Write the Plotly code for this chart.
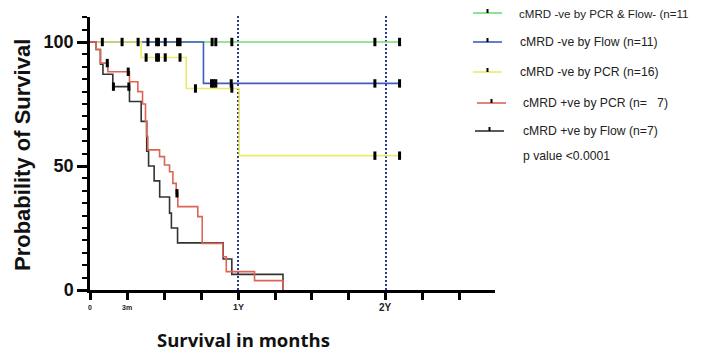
import plotly.graph_objects as go

# ---- data (months, survival %) ----
green_t = [0, 25.1]
green_s = [100, 100]
green_ct = [1.0, 2.6, 3.9, 9.9, 10.2, 11.5, 23.1, 25.1]
green_cs = [100, 100, 100, 100, 100, 100, 100, 100]

blue_t = [0, 9.2, 25.1]
blue_s = [100, 83.3, 83.3]
blue_ct = [4.7, 5.4, 5.55, 6.1, 7.1, 7.3, 9.85, 10.0, 10.2, 11.45, 23.1, 25.1]
blue_cs = [100, 100, 100, 100, 100, 100, 83.3, 83.3, 83.3, 83.3, 83.3, 83.3]

yellow_t = [0, 4.15, 7.8, 12.1, 25.1]
yellow_s = [100, 93.75, 81.25, 54.17, 54.17]
yellow_ct = [4.55, 5.4, 5.55, 6.1, 7.3, 8.55, 11.5, 23.1, 25.1]
yellow_cs = [93.75, 93.75, 93.75, 93.75, 93.75, 81.25, 81.25, 54.17, 54.17]

black_t = [0, 0.5, 0.85, 1.05, 1.85, 3.2, 4.15, 4.6, 4.75, 5.2, 5.65, 6.45, 6.6, 7.1, 10.8, 11.5, 15.65]
black_s = [100, 97, 91, 87, 82, 76, 68, 56, 50, 44, 37.5, 31, 25, 19, 12.5, 6.3, 0]
black_ct = [1.9, 3.15]
black_cs = [82, 82]

red_t = [0, 0.5, 0.83, 1.45, 3.2, 3.88, 4.26, 4.5, 4.58, 4.69, 5.64, 6.04, 6.45, 6.72, 6.99, 7.12, 8.74, 9.1, 10.77, 11.05, 13.34, 15.65]
red_s = [100, 97, 91.5, 88, 84, 80, 75, 68, 62, 56.5, 53.8, 50.4, 47.7, 43, 39, 33.6, 29.6, 18.8, 13.4, 7.4, 3.8, 0]
red_ct = [1.4, 3.1, 7.05]
red_cs = [91.5, 88, 39]

x_tick_vals = [0, 3, 6, 9, 12, 15, 18, 21, 24, 27, 30]
x_label_vals = [0, 3, 12, 24]
x_label_text = ["0", "3m", "1Y", "2Y"]
x_label_size = [7, 7, 9, 10]

legend_names = ["cMRD -ve by PCR & Flow- (n=11", "cMRD -ve by Flow (n=11)",
                "cMRD -ve by PCR (n=16)", "cMRD +ve by PCR (n=\u00a0\u00a0\u00a07)",
                "cMRD +ve by Flow (n=7)"]
p_text = "p value <0.0001"

GREEN = "#72dc72"
BLUE = "#3e5dbf"
YELLOW = "#ecec66"
RED = "#dc6555"
BLACK = "#333333"
DOT = "#2b3a8c"

fig = go.Figure()

series = [
    (green_t, green_s, green_ct, green_cs, GREEN),
    (blue_t, blue_s, blue_ct, blue_cs, BLUE),
    (yellow_t, yellow_s, yellow_ct, yellow_cs, YELLOW),
    (black_t, black_s, black_ct, black_cs, BLACK),
    (red_t, red_s, red_ct, red_cs, RED),
]
for t, s, ct, cs, col in series:
    fig.add_trace(go.Scatter(x=t, y=s, mode="lines", line=dict(color=col, width=1.6, shape="hv"),
                             showlegend=False, hoverinfo="skip", cliponaxis=False))
for t, s, ct, cs, col in series:
    fig.add_trace(go.Scatter(x=ct, y=cs, mode="markers",
                             marker=dict(symbol="line-ns", size=6, line=dict(color="black", width=3)),
                             showlegend=False, hoverinfo="skip", cliponaxis=False))

# page has an 8px body margin; figure is sized to fit inside the window
OFF = 8
W, H = 701 - OFF, 356 - OFF
L, R, T, B = 82, 206, 9, 66
PW = W - L - R
PH = H - T - B


def px(x_page):
    return (x_page - OFF - L) / PW


def py(y_page):
    return (H - B - (y_page - OFF)) / PH


shapes = []
for v in [12, 24]:
    shapes.append(dict(type="line", xref="x", yref="paper", x0=v, x1=v, y0=0, y1=1.005,
                       line=dict(color=DOT, width=2, dash="2px,2px"), layer="below"))

leg_cols = [GREEN, BLUE, YELLOW, RED, BLACK]
leg_y = [13, 42, 72, 103, 131]
leg_x0 = [473, 473, 473, 477, 475]
leg_tx = [517, 518, 518, 521, 521]
leg_size = [11.6, 12.2, 12.2, 12.2, 12.2]
annotations = []
for i in range(5):
    x0 = leg_x0[i]
    shapes.append(dict(type="line", xref="paper", yref="paper", x0=px(x0), x1=px(x0 + 29),
                       y0=py(leg_y[i]), y1=py(leg_y[i]), line=dict(color=leg_cols[i], width=1.6)))
    shapes.append(dict(type="line", xref="paper", yref="paper", x0=px(x0 + 14.5), x1=px(x0 + 14.5),
                       y0=py(leg_y[i]), y1=py(leg_y[i] - 4), line=dict(color="black", width=2)))
    annotations.append(dict(text=legend_names[i], xref="paper", yref="paper", x=px(leg_tx[i]),
                            y=py(leg_y[i]), xanchor="left", yanchor="middle", showarrow=False,
                            font=dict(family="Liberation Sans, Arial", size=leg_size[i], color="#222")))
annotations.append(dict(text=p_text, xref="paper", yref="paper", x=px(521), y=py(156),
                        xanchor="left", yanchor="middle", showarrow=False,
                        font=dict(family="Liberation Sans, Arial", size=12.2, color="#222")))

for v, t, s in zip(x_label_vals, x_label_text, x_label_size):
    annotations.append(dict(text="<b>" + t + "</b>", xref="x", yref="paper", x=v, y=py(307),
                            xanchor="center", yanchor="middle", showarrow=False,
                            font=dict(family="Liberation Sans, Arial", size=s, color="#222")))

annotations.append(dict(text="<b>Probability of Survival</b>", xref="paper", yref="paper",
                        x=px(22), y=py(155), textangle=-90, xanchor="center", yanchor="middle",
                        showarrow=False, font=dict(family="Liberation Sans, Arial", size=22, color="#111")))
annotations.append(dict(text="<b>Survival in months</b>", xref="paper", yref="paper",
                        x=px(243), y=py(339), xanchor="center", yanchor="middle",
                        showarrow=False, font=dict(family="Open Sans", size=18.5, color="#111")))

fig.update_layout(
    width=W, height=H,
    margin=dict(l=L, r=R, t=T, b=B, pad=0),
    paper_bgcolor="white", plot_bgcolor="white",
    shapes=shapes, annotations=annotations,
    xaxis=dict(range=[0, PW / 12.333], tickmode="array", tickvals=x_tick_vals, showticklabels=False,
               ticks="outside", ticklen=7, tickwidth=2.5, tickcolor="black",
               showline=True, linewidth=2.5, linecolor="black", showgrid=False, zeroline=False,
               fixedrange=True),
    yaxis=dict(range=[0, PH / 2.48], tickmode="array", tickvals=[0, 50, 100],
               ticktext=["<b>0</b>", "<b>50</b>", "<b>100</b>"],
               tickfont=dict(family="Liberation Sans, Arial", size=18, color="#111"),
               ticks="outside", ticklen=10, tickwidth=2.5, tickcolor="black",
               minor=dict(tickmode="linear", dtick=5, tick0=0, ticks="outside", ticklen=5,
                          tickwidth=2, tickcolor="black"),
               showline=True, linewidth=2.5, linecolor="black", showgrid=False, zeroline=False,
               fixedrange=True),
)

fig.write_html("out.html")
